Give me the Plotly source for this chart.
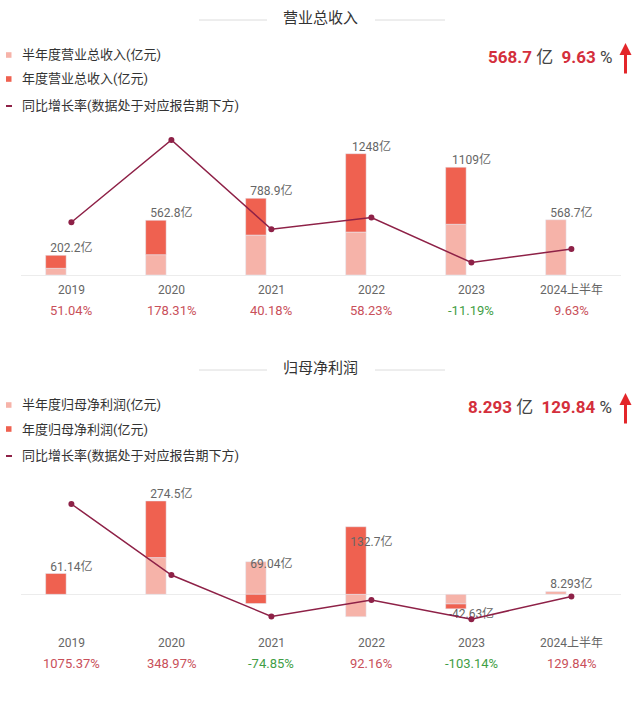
import plotly.graph_objects as go

# ---------------- data ----------------
categories = ["2019", "2020", "2021", "2022", "2023", "2024上半年"]

rev_annual = [202.2, 562.8, 788.9, 1248, 1109, None]
rev_half = [69, 209, 411, 442, 522, 568.7]
rev_growth = [51.04, 178.31, 40.18, 58.23, -11.19, 9.63]
rev_label_vals = [202.2, 562.8, 788.9, 1248, 1109, 568.7]

np_annual = [61.14, 274.5, 69.04, 132.7, -42.63, None]
np_half = [None, 108, 96, -66, -28.5, 8.293]
np_growth = [1075.37, 348.97, -74.85, 92.16, -103.14, 129.84]
np_label_vals = [61.14, 274.5, 69.04, 132.7, -42.63, 8.293]

rev_title = "营业总收入"
np_title = "归母净利润"
rev_legend = ["半年度营业总收入(亿元)", "年度营业总收入(亿元)", "同比增长率(数据处于对应报告期下方)"]
np_legend = ["半年度归母净利润(亿元)", "年度归母净利润(亿元)", "同比增长率(数据处于对应报告期下方)"]

# ---------------- style ----------------
W, H = 640, 702
LIGHT = "#f6b3a9"
DARK = "#ef6150"
LINE = "#8e2147"
RED_TXT = "#c9505a"
GREEN_TXT = "#3f9e45"
FONT = "Roboto, Noto Sans CJK SC, sans-serif"


def px(p):
    return p / W


def py(p):
    return 1 - p / H


fig = go.Figure()


def second_half(annual, half):
    out = []
    for a, h in zip(annual, half):
        if a is None:
            out.append(None)
        else:
            out.append(round(a - (h or 0), 3))
    return out


def add_chart(xa, ya, ya2, half, annual, growth, label_vals):
    fig.add_trace(go.Bar(x=categories, y=half, marker_color=LIGHT, xaxis=xa, yaxis=ya,
                         offset=-0.2575, width=0.205, hoverinfo="skip"))
    fig.add_trace(go.Bar(x=categories, y=second_half(annual, half), marker_color=DARK,
                         xaxis=xa, yaxis=ya, offset=-0.2575, width=0.205, hoverinfo="skip"))
    fig.add_trace(go.Scatter(x=categories, y=growth, mode="lines+markers", xaxis=xa, yaxis=ya2,
                             line=dict(color=LINE, width=1.5), marker=dict(color=LINE, size=6),
                             hoverinfo="skip", cliponaxis=False))
    fig.add_trace(go.Scatter(x=categories, y=label_vals, mode="text", xaxis=xa, yaxis=ya,
                             text=[f"{v:g}亿" for v in label_vals],
                             textposition=["top center" if v >= 0 else "bottom center" for v in label_vals],
                             textfont=dict(size=12, color="#666666", family=FONT),
                             hoverinfo="skip", cliponaxis=False))


add_chart("x", "y", "y2", rev_half, rev_annual, rev_growth, rev_label_vals)
add_chart("x2", "y3", "y4", np_half, np_annual, np_growth, np_label_vals)

xdom = [px(21.4), px(621.4)]
xcommon = dict(type="category", range=[-0.5, 5.5], showgrid=False, showline=False, ticks="",
               tickfont=dict(size=12, color="#666666", family=FONT), fixedrange=True, zeroline=False,
               ticklabelstandoff=4)
ycommon = dict(showgrid=False, showticklabels=False, ticks="", zeroline=True,
               zerolinecolor="#ececec", zerolinewidth=1, fixedrange=True)
y2common = dict(showgrid=False, showticklabels=False, ticks="", zeroline=False, fixedrange=True,
                side="right")

fig.update_layout(
    width=W, height=H, margin=dict(l=0, r=0, t=0, b=0),
    paper_bgcolor="white", plot_bgcolor="white", showlegend=False,
    barmode="relative", font=dict(family=FONT),
    xaxis=dict(domain=xdom, anchor="y", **xcommon),
    yaxis=dict(domain=[py(277), py(120)], range=[-20.6, 1594.7], **ycommon),
    yaxis2=dict(overlaying="y", anchor="x", range=[-33.6, 209.2], **y2common),
    xaxis2=dict(domain=xdom, anchor="y3", **xcommon),
    yaxis3=dict(domain=[py(630), py(470)], range=[-105.0, 365.6], anchor="x2", **ycommon),
    yaxis4=dict(overlaying="y3", anchor="x2", range=[-213.8, 1423.2], **y2common),
)

annotations = []
shapes = []


def header(title, legend, half, growth, y0):
    # title with side rules
    annotations.append(dict(text=title, x=0.5, y=py(y0 + 18), xref="paper", yref="paper",
                            showarrow=False, font=dict(size=15, color="#333333", family=FONT),
                            xanchor="center", yanchor="middle"))
    for a, b in [(199, 267), (375, 445)]:
        shapes.append(dict(type="line", xref="paper", yref="paper", x0=px(a), x1=px(b),
                           y0=py(y0 + 20), y1=py(y0 + 20), line=dict(color="#dcdcdc", width=1)))
    # legend
    ys = [y0 + 55, y0 + 79, y0 + 105]
    for i, (txt, yy) in enumerate(zip(legend, ys)):
        annotations.append(dict(text=txt, x=px(20.4), y=py(yy), xref="paper", yref="paper",
                                showarrow=False, font=dict(size=13, color="#333333", family=FONT),
                                xanchor="left", yanchor="middle"))
        if i < 2:
            shapes.append(dict(type="rect", xref="paper", yref="paper", x0=px(6), x1=px(11.5),
                               y0=py(yy + 2.8), y1=py(yy - 2.8), line=dict(width=0),
                               fillcolor=[LIGHT, DARK][i]))
        else:
            shapes.append(dict(type="line", xref="paper", yref="paper", x0=px(6), x1=px(12),
                               y0=py(yy + 1), y1=py(yy + 1), line=dict(color=LINE, width=2)))
    # summary on right
    last_val = half[-1]
    last_g = growth[-1]
    txt = (f"<b>{last_val:g}</b> <span style='color:#444444'>亿</span>  "
           f"<b>{last_g:.2f}</b> <span style='color:#444444'>%</span>")
    annotations.append(dict(text=txt, x=px(614), y=py(y0 + 57), xref="paper", yref="paper",
                            showarrow=False, font=dict(size=17, color="#d42f3c", family=FONT),
                            xanchor="right", yanchor="middle"))
    annotations.append(dict(text="", x=px(625.5), y=py(y0 + 43), xref="paper", yref="paper",
                            showarrow=True, ax=0, ay=32, arrowhead=2, arrowsize=0.8,
                            arrowwidth=3, arrowcolor="#e3262a"))


header(rev_title, rev_legend, rev_half, rev_growth, 0)
header(np_title, np_legend, np_half, np_growth, 350)

for xr, ypx, growth in [("x", 310.7, rev_growth), ("x2", 663.3, np_growth)]:
    for i, g in enumerate(growth):
        annotations.append(dict(text=f"{g:.2f}%", x=i, y=py(ypx), xref=xr, yref="paper",
                                showarrow=False, xanchor="center", yanchor="middle",
                                font=dict(size=13, color=RED_TXT if g >= 0 else GREEN_TXT,
                                          family=FONT)))

fig.update_layout(annotations=annotations, shapes=shapes)
fig.write_html("out.html", config={"displayModeBar": False},
               post_script="document.body.style.margin='0px';")
